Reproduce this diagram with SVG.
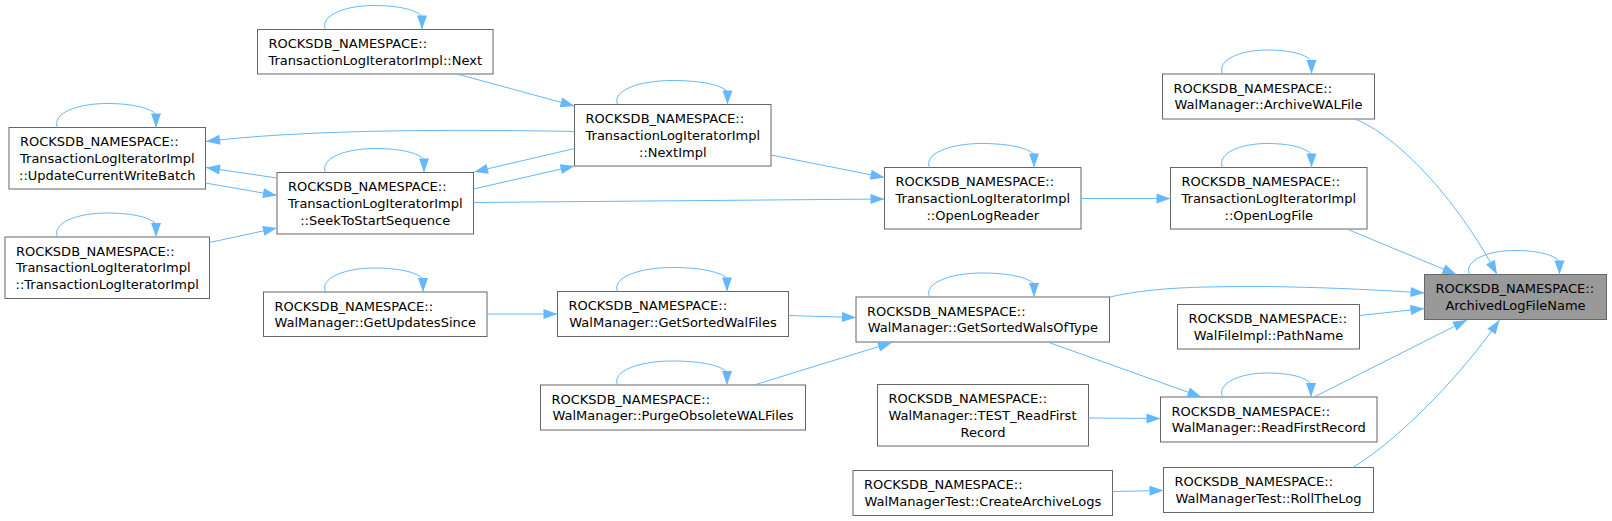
<svg xmlns="http://www.w3.org/2000/svg" width="1612" height="521" viewBox="0 0 1612 521">
<style>
.n rect{fill:#ffffff;stroke:#666666;stroke-width:1}
.n.hl rect{fill:#999999}
.n text{font-family:"DejaVu Sans","Liberation Sans",sans-serif;font-size:13px;fill:#000000}
.n text.c{text-anchor:middle}
#edges path{fill:none;stroke:#63b8ff;stroke-width:1;marker-end:url(#ah)}
</style>
<defs>
<marker id="ah" markerWidth="14" markerHeight="10" refX="14" refY="5" orient="auto" markerUnits="userSpaceOnUse" overflow="visible">
<path d="M0,0 L14,5 L0,10 z" fill="#63b8ff"/>
</marker>
</defs>
<rect width="1612" height="521" fill="#ffffff"/>

<g id="n_next" class="n"><rect x="257.5" y="29.5" width="235.5" height="44.5"/><text x="268.5" y="48.2">ROCKSDB_NAMESPACE::</text><text class="c" x="375.2" y="64.9">TransactionLogIteratorImpl::Next</text></g>
<g id="n_ucwb" class="n"><rect x="9" y="127.5" width="196.5" height="61.5"/><text x="20" y="146.2">ROCKSDB_NAMESPACE::</text><text x="20" y="162.9">TransactionLogIteratorImpl</text><text class="c" x="107.2" y="179.6">::UpdateCurrentWriteBatch</text></g>
<g id="n_stss" class="n"><rect x="277" y="172.5" width="196.5" height="61.5"/><text x="288" y="191.2">ROCKSDB_NAMESPACE::</text><text x="288" y="207.9">TransactionLogIteratorImpl</text><text class="c" x="375.2" y="224.6">::SeekToStartSequence</text></g>
<g id="n_ctor" class="n"><rect x="5" y="237" width="204.5" height="61.5"/><text x="16" y="255.7">ROCKSDB_NAMESPACE::</text><text x="16" y="272.4">TransactionLogIteratorImpl</text><text class="c" x="107.2" y="289.1">::TransactionLogIteratorImpl</text></g>
<g id="n_gus" class="n"><rect x="263.5" y="292" width="223.5" height="44.5"/><text x="274.5" y="310.7">ROCKSDB_NAMESPACE::</text><text class="c" x="375.2" y="327.4">WalManager::GetUpdatesSince</text></g>
<g id="n_nextimpl" class="n"><rect x="574.5" y="104.5" width="196.5" height="61.5"/><text x="585.5" y="123.2">ROCKSDB_NAMESPACE::</text><text x="585.5" y="139.9">TransactionLogIteratorImpl</text><text class="c" x="672.8" y="156.6">::NextImpl</text></g>
<g id="n_gswf" class="n"><rect x="557.5" y="291.5" width="231" height="45"/><text x="568.5" y="310.2">ROCKSDB_NAMESPACE::</text><text class="c" x="673" y="326.9">WalManager::GetSortedWalFiles</text></g>
<g id="n_powf" class="n"><rect x="540.5" y="385" width="265" height="45"/><text x="551.5" y="403.7">ROCKSDB_NAMESPACE::</text><text class="c" x="673" y="420.4">WalManager::PurgeObsoleteWALFiles</text></g>
<g id="n_olr" class="n"><rect x="884.5" y="167.5" width="196.5" height="61.5"/><text x="895.5" y="186.2">ROCKSDB_NAMESPACE::</text><text x="895.5" y="202.9">TransactionLogIteratorImpl</text><text class="c" x="982.8" y="219.6">::OpenLogReader</text></g>
<g id="n_gswot" class="n"><rect x="856" y="297" width="253.5" height="45"/><text x="867" y="315.7">ROCKSDB_NAMESPACE::</text><text class="c" x="982.8" y="332.4">WalManager::GetSortedWalsOfType</text></g>
<g id="n_test" class="n"><rect x="877.5" y="384.5" width="211" height="61.5"/><text x="888.5" y="403.2">ROCKSDB_NAMESPACE::</text><text x="888.5" y="419.9">WalManager::TEST_ReadFirst</text><text class="c" x="983" y="436.6">Record</text></g>
<g id="n_cal" class="n"><rect x="853" y="470.5" width="259.5" height="45"/><text x="864" y="489.2">ROCKSDB_NAMESPACE::</text><text class="c" x="982.8" y="505.9">WalManagerTest::CreateArchiveLogs</text></g>
<g id="n_awf" class="n"><rect x="1162.5" y="74" width="212" height="45"/><text x="1173.5" y="92.7">ROCKSDB_NAMESPACE::</text><text class="c" x="1268.5" y="109.4">WalManager::ArchiveWALFile</text></g>
<g id="n_olf" class="n"><rect x="1170.5" y="167.5" width="196.5" height="61.5"/><text x="1181.5" y="186.2">ROCKSDB_NAMESPACE::</text><text x="1181.5" y="202.9">TransactionLogIteratorImpl</text><text class="c" x="1268.8" y="219.6">::OpenLogFile</text></g>
<g id="n_path" class="n"><rect x="1177.5" y="304.5" width="182" height="44.5"/><text x="1188.5" y="323.2">ROCKSDB_NAMESPACE::</text><text class="c" x="1268.5" y="339.9">WalFileImpl::PathName</text></g>
<g id="n_rfr" class="n"><rect x="1160.5" y="397" width="216.5" height="45"/><text x="1171.5" y="415.7">ROCKSDB_NAMESPACE::</text><text class="c" x="1268.8" y="432.4">WalManager::ReadFirstRecord</text></g>
<g id="n_rtl" class="n"><rect x="1163.5" y="467.5" width="210" height="45"/><text x="1174.5" y="486.2">ROCKSDB_NAMESPACE::</text><text class="c" x="1268.5" y="502.9">WalManagerTest::RollTheLog</text></g>
<g id="n_alfn" class="n hl"><rect x="1424.5" y="274.5" width="182" height="45"/><text x="1435.5" y="293.2">ROCKSDB_NAMESPACE::</text><text class="c" x="1515.5" y="309.9">ArchivedLogFileName</text></g>

<g id="edges">
<path d="M457,74 L574.5,106"/>
<path d="M574.5,131.5 C440,129 300,130 206,141.5"/>
<path d="M574.5,148.5 L474,172"/>
<path d="M473.5,189 L574.5,166"/>
<path d="M277,178 L206,167.5"/>
<path d="M205.5,183 L277,195.5"/>
<path d="M209.5,242.5 L277,228"/>
<path d="M771,155 L884.5,177.5"/>
<path d="M473.5,202.5 L884.5,199"/>
<path d="M1081,198.5 L1170.5,198.5"/>
<path d="M1348,229.5 L1456.5,274.5"/>
<path d="M1356,119.5 C1395,135 1455,195 1497,274.5"/>
<path d="M1110,297 C1150,288 1190,286.5 1260,286.5 C1320,287 1380,290 1424.5,293"/>
<path d="M1359.5,315.5 L1424.5,308.5"/>
<path d="M1314,397 L1467,320"/>
<path d="M1353,467.5 C1405,435 1465,370 1499.5,320"/>
<path d="M487,314 L557.5,314"/>
<path d="M788.5,315.5 L856,317.5"/>
<path d="M754,385 L892,342.5"/>
<path d="M1049,342.5 L1201.5,397"/>
<path d="M1088.5,418 L1160.5,418.5"/>
<path d="M1112.5,491.5 L1163.5,490.5"/>
<path d="M325.5,29.5 C319.5,15.5 344.8,5.5 373.8,5.5 C400.8,5.5 417.2,10.5 422,16.5 L422,29.5"/>
<path d="M57.5,127.5 C51.5,113.5 77.2,103.5 106.8,103.5 C134.3,103.5 151.1,108.5 156,114.5 L156,127.5"/>
<path d="M325.5,172.5 C319.5,158.5 345.2,148.5 374.8,148.5 C402.3,148.5 419.1,153.5 424,159.5 L424,172.5"/>
<path d="M57.5,237 C51.5,223 77.2,213 106.8,213 C134.3,213 151.1,218 156,224 L156,237"/>
<path d="M325.5,292 C319.5,278 345,268 374.3,268 C401.6,268 418.1,273 423,279 L423,292"/>
<path d="M617.5,104.5 C611.5,90.5 639.5,80.5 672.5,80.5 C703.3,80.5 722,85.5 727.5,91.5 L727.5,104.5"/>
<path d="M617.5,291.5 C611.5,277.5 639.4,267.5 672.3,267.5 C702.9,267.5 721.5,272.5 727,278.5 L727,291.5"/>
<path d="M617.5,385 C611.5,371 639.4,361 672.3,361 C702.9,361 721.5,366 727,372 L727,385"/>
<path d="M929.5,167.5 C923.5,153.5 950.4,143.5 981.8,143.5 C1011,143.5 1028.8,148.5 1034,154.5 L1034,167.5"/>
<path d="M929.5,297 C923.5,283 950.4,273 981.8,273 C1011,273 1028.8,278 1034,284 L1034,297"/>
<path d="M1222.5,74 C1216.5,60 1240.3,50 1267,50 C1291.9,50 1307.1,55 1311.5,61 L1311.5,74"/>
<path d="M1222.5,167.5 C1216.5,153.5 1240.3,143.5 1267,143.5 C1291.9,143.5 1307.1,148.5 1311.5,154.5 L1311.5,167.5"/>
<path d="M1222.5,397 C1216.5,383 1240.3,373 1267,373 C1291.9,373 1307.1,378 1311,384 L1311,397"/>
<path d="M1469.5,274.5 C1463.5,260.5 1487.5,250.5 1514.5,250.5 C1539.7,250.5 1555,255.5 1559.5,261.5 L1559.5,274.5"/>
</g>
</svg>
